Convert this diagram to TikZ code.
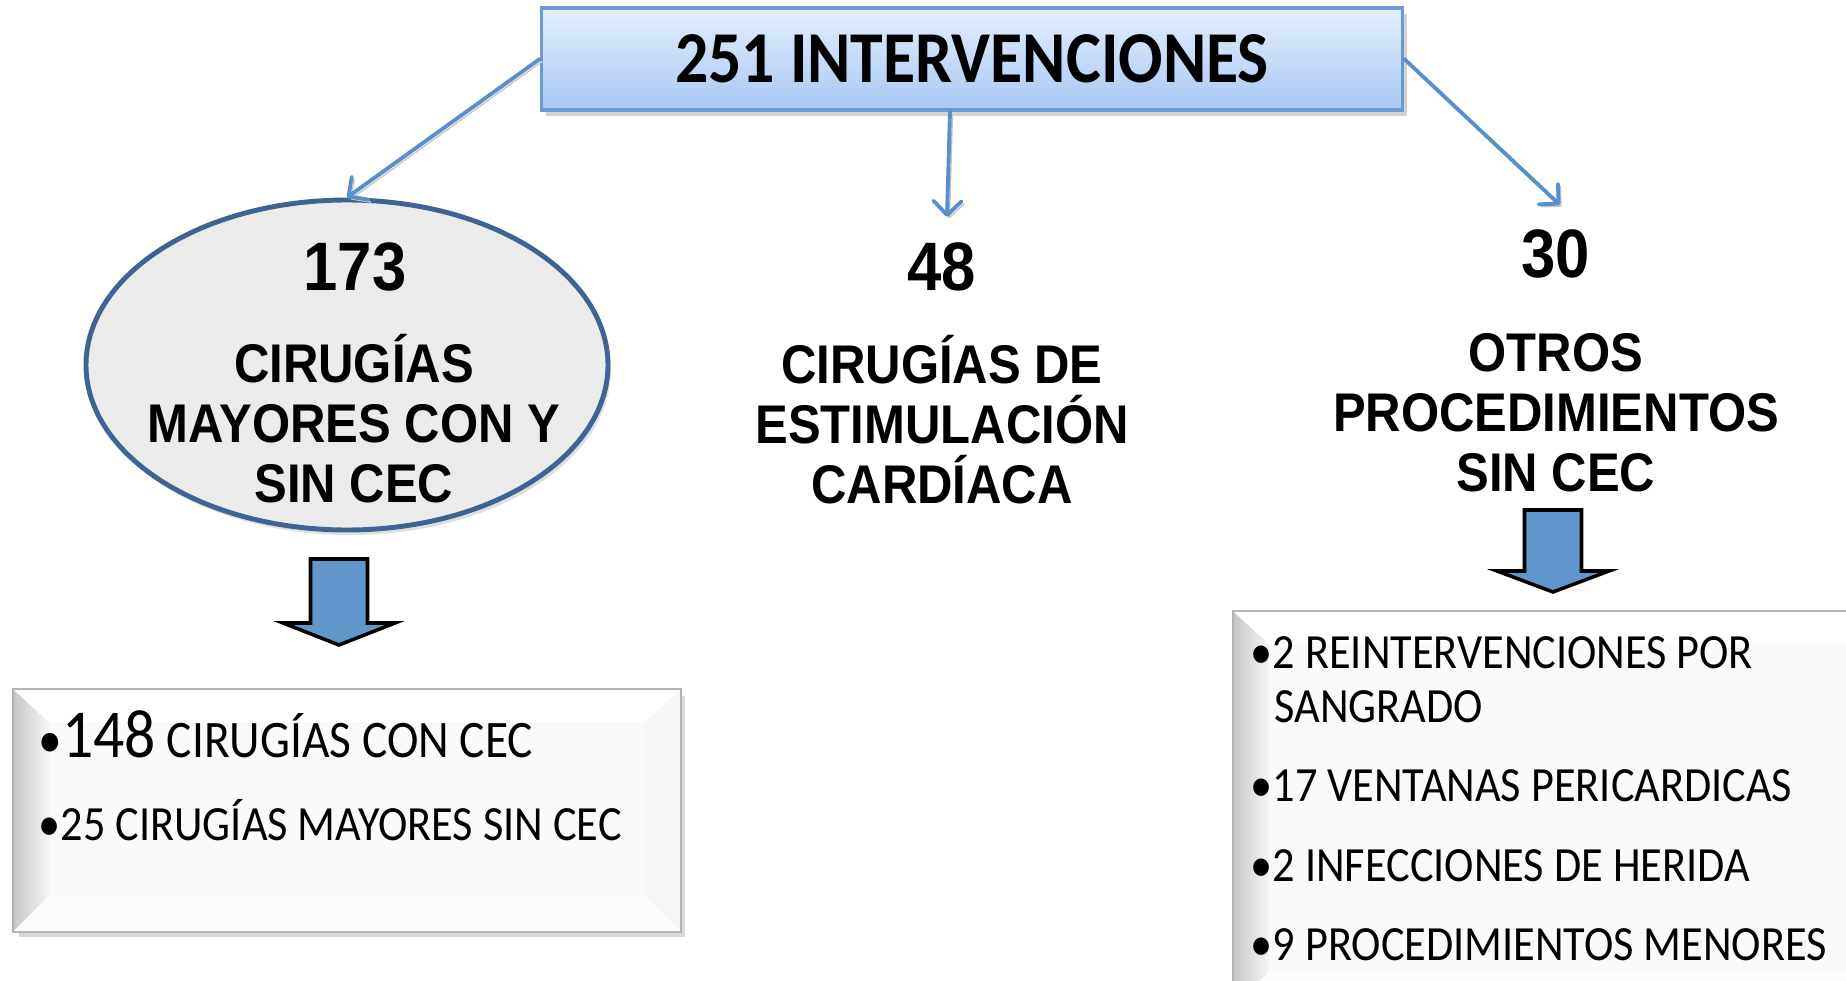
\documentclass[tikz,border=0pt]{standalone}
\usepackage{fontspec}
\setmainfont{Carlito}[FakeStretch=0.9]
\newfontfamily\arialbf{Liberation Sans}[FakeStretch=0.9]
\usetikzlibrary{arrows.meta,shadows,shapes.geometric,positioning}

\definecolor{boxtop}{HTML}{E3EEFD}
\definecolor{boxbot}{HTML}{A8C8F4}
\definecolor{boxline}{HTML}{6C9BD2}
\definecolor{linkblue}{HTML}{5B8FCB}
\definecolor{ovalline}{HTML}{3E6493}
\definecolor{ovalfill}{HTML}{EBEBEB}
\definecolor{blockblue}{HTML}{6096C9}

\tikzset{
    titlebox/.style={draw=boxline, line width=1pt, top color=boxtop, bottom color=boxbot,
        minimum width=8.61cm, minimum height=1.02cm, inner sep=0pt,
        drop shadow={shadow xshift=.04cm, shadow yshift=-.06cm, opacity=.35},
        font=\bfseries\fontsize{20.8}{24}\selectfont},
    bigoval/.style={ellipse, draw=ovalline, line width=1.4pt, fill=ovalfill,
        minimum width=5.22cm, minimum height=3.30cm,
        drop shadow={shadow xshift=.03cm, shadow yshift=-.05cm, opacity=.25}},
    countlabel/.style={font=\arialbf\bfseries\fontsize{19.5}{22}\selectfont, inner sep=0pt, anchor=base},
    grouplabel/.style={font=\arialbf\bfseries\fontsize{15.5}{17.1}\selectfont, align=center, inner sep=0pt},
    link/.style={draw=linkblue, line width=1.1pt, line cap=round,
        -{Straight Barb[length=1.4mm, width=2.8mm, round]},
        preaction={draw=black!22, transform canvas={xshift=.7pt, yshift=-.7pt}}},
    blockarrow/.style={draw=black, line width=1pt, fill=blockblue, line join=miter},
    listbox/.style={draw=black!30, line width=.5pt, fill=black!2, inner sep=0pt, anchor=north west,
        drop shadow={shadow xshift=.05cm, shadow yshift=-.06cm, opacity=.3}},
    listitem/.style={font=\fontsize{14}{16}\selectfont, inner sep=0pt, anchor=base west},
}

\begin{document}
\begin{tikzpicture}
    \useasboundingbox (0,0) rectangle (18.46,-9.81);

    % top box
    \node[titlebox] (total) at (9.72,-0.59) {251 INTERVENCIONES};

    % three groups
    \node[bigoval] (major) at (3.47,-3.65) {};
    \node[countlabel] (majorcount) at (3.55,-2.90) {173};
    \node[grouplabel] (majortext) at (3.54,-4.19) {CIRUGÍAS\\MAYORES CON Y\\SIN CEC};

    \node[countlabel] (cardcount) at (9.42,-2.90) {48};
    \node[grouplabel] (cardtext) at (9.42,-4.20) {CIRUGÍAS DE\\ESTIMULACIÓN\\CARDÍACA};

    \node[countlabel] (othercount) at (15.56,-2.77) {30};
    \node[grouplabel] (othertext) at (15.56,-4.13) {OTROS\\PROCEDIMIENTOS\\SIN CEC};

    \coordinate (cardtip) at (9.47,-2.17);
    \coordinate (othertip) at (15.60,-2.05);
    \draw[link] (total.west) -- (major.north);
    \draw[link] ([xshift=-.22cm]total.south) -- (cardtip);
    \draw[link] (total.east) -- (othertip);

    % block arrows down to the lists
    \foreach \cx/\ytop/\ybase/\ytip in {3.39/-5.59/-6.23/-6.45, 15.53/-5.10/-5.71/-5.92}
        \draw[blockarrow] (\cx-.285,\ytop) -- (\cx+.285,\ytop) -- (\cx+.285,\ybase) -- (\cx+.56,\ybase)
            -- (\cx,\ytip) -- (\cx-.56,\ybase) -- (\cx-.285,\ybase) -- cycle;

    % bevelled lists
    \node[listbox, minimum width=6.66cm, minimum height=2.41cm] (majorlist) at (0.13,-6.89) {};
    \node[listbox, minimum width=6.50cm, minimum height=3.95cm] (otherlist) at (12.33,-6.11) {};
    \foreach \b in {majorlist,otherlist} {
        \shade[left color=black!22, right color=black!4] (\b.north west) -- ([shift={(.36,-.33)}]\b.north west)
            -- ([shift={(.36,.36)}]\b.south west) -- (\b.south west) -- cycle;
        \fill[white] (\b.north west) -- (\b.north east) -- ([shift={(-.36,-.33)}]\b.north east)
            -- ([shift={(.36,-.33)}]\b.north west) -- cycle;
        \fill[black!3] (\b.north east) -- (\b.south east) -- ([shift={(-.36,.36)}]\b.south east)
            -- ([shift={(-.36,-.33)}]\b.north east) -- cycle;
        \fill[black!1] (\b.south west) -- (\b.south east) -- ([shift={(-.36,.36)}]\b.south east)
            -- ([shift={(.36,.36)}]\b.south west) -- cycle;
        \draw[black!30, line width=.5pt] (\b.north west) rectangle (\b.south east);
    }

    \node[listitem, font=\fontsize{15}{18}\selectfont] (major1) at (0.38,-7.57) {•{\fontsize{19.5}{22}\selectfont 148} CIRUGÍAS CON CEC};
    \node[listitem] (major2) at (0.38,-8.40) {•25 CIRUGÍAS MAYORES SIN CEC};

    \node[listitem] (other1) at (12.50,-6.68) {•2 REINTERVENCIONES POR};
    \node[listitem] (other1b) at (12.74,-7.22) {SANGRADO};
    \node[listitem] (other2) at (12.50,-8.01) {•17 VENTANAS PERICARDICAS};
    \node[listitem] (other3) at (12.50,-8.81) {•2 INFECCIONES DE HERIDA};
    \node[listitem] (other4) at (12.50,-9.60) {•9 PROCEDIMIENTOS MENORES};
\end{tikzpicture}
\end{document}
